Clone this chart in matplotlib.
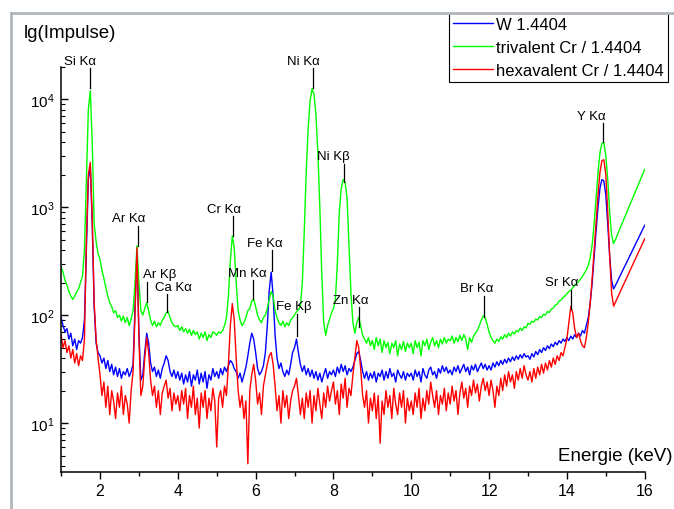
import numpy as np
import matplotlib
matplotlib.use("Agg")
import matplotlib.pyplot as plt
from matplotlib.lines import Line2D
from matplotlib.ticker import LogLocator, MultipleLocator

plt.rcParams['font.family'] = ['Liberation Sans', 'DejaVu Sans']
plt.rcParams['mathtext.fontset'] = 'custom'
plt.rcParams['mathtext.rm'] = 'Liberation Sans'

# Energie-Raster (keV), 0.05 keV Schritte von 1 bis 16
energy = np.round(np.arange(1.0, 16.0001, 0.05), 2)

# Impulse (je Zeile 1 keV: x.00 ... x.95)
w_14404 = [
    95, 80, 70, 75, 60, 68, 52, 60, 48, 58, 55, 62, 90, 400, 1800, 2400, 700, 120, 55, 45,
    42, 36, 40, 32, 38, 30, 35, 28, 33, 27, 32, 26, 30, 28, 32, 27, 30, 35, 120, 400,
    70, 25, 28, 45, 68, 55, 36, 30, 33, 27, 31, 26, 32, 36, 42, 38, 30, 27, 31, 26,
    30, 25, 29, 23, 28, 24, 30, 22, 28, 25, 31, 23, 29, 24, 30, 21, 28, 25, 32, 27,
    30, 26, 32, 28, 33, 30, 34, 38, 36, 32, 30, 26, 29, 24, 28, 33, 42, 55, 68, 60,
    45, 32, 28, 30, 34, 45, 80, 170, 250, 150, 65, 40, 32, 36, 30, 27, 31, 28, 35, 45,
    50, 60, 45, 35, 30, 34, 28, 32, 27, 31, 26, 30, 25, 29, 24, 28, 32, 26, 30, 28,
    31, 27, 33, 29, 35, 30, 34, 28, 32, 30, 33, 38, 44, 46, 38, 30, 26, 30, 25, 29,
    26, 30, 24, 29, 27, 31, 25, 30, 26, 32, 27, 29, 24, 31, 28, 26, 30, 25, 29, 27,
    29, 25, 31, 27, 30, 24, 32, 28, 26, 31, 33, 28, 30, 26, 32, 29, 34, 30, 33, 29,
    31, 28, 33, 30, 34, 29, 32, 35, 30, 33, 28, 34, 31, 35, 30, 33, 36, 32, 35, 31,
    34, 31, 36, 33, 37, 34, 38, 35, 39, 36, 40, 37, 41, 38, 42, 39, 43, 40, 44, 41,
    42, 39, 44, 41, 46, 43, 48, 45, 50, 47, 52, 49, 54, 51, 56, 53, 58, 55, 60, 57,
    62, 58, 64, 60, 66, 62, 68, 64, 72, 68, 80, 95, 130, 200, 350, 600, 1000, 1500, 1800, 1750,
    1300, 700, 350, 210, 175, 189, 206, 224, 244, 266, 290, 315, 344, 374, 407, 444, 483, 526, 573, 624,
    680]

cr3 = [
    280, 250, 210, 190, 165, 150, 140, 150, 165, 175, 200, 230, 400, 1800, 8000, 12000, 4000, 700, 480, 370,
    330, 260, 220, 180, 150, 130, 120, 105, 110, 95, 100, 88, 98, 85, 95, 80, 92, 110, 200, 440,
    200, 110, 100, 115, 130, 110, 90, 80, 88, 78, 85, 80, 90, 95, 105, 108, 95, 85, 80, 78,
    80, 72, 78, 70, 75, 68, 74, 65, 72, 66, 70, 60, 68, 62, 70, 58, 66, 62, 70, 68,
    65, 70, 68, 72, 80, 95, 150, 320, 540, 420, 200, 110, 90, 80, 85, 95, 110, 115, 135, 140,
    120, 100, 90, 85, 95, 100, 115, 140, 165, 150, 110, 95, 85, 80, 88, 78, 85, 80, 90, 95,
    100, 108, 112, 120, 200, 600, 2100, 5400, 9700, 12500, 11200, 7100, 3200, 1000, 240, 85, 65, 80, 92, 105,
    115, 140, 300, 900, 1500, 1800, 1700, 1200, 450, 160, 85, 68, 85, 95, 80, 65, 60, 55, 62, 52,
    58, 48, 62, 52, 60, 45, 58, 50, 56, 44, 55, 50, 58, 42, 54, 48, 57, 46, 55, 50,
    55, 44, 58, 50, 56, 42, 58, 52, 60, 48, 56, 62, 52, 58, 50, 60, 54, 62, 55, 60,
    58, 64, 55, 62, 57, 65, 58, 66, 60, 48, 62, 56, 64, 68, 72, 80, 90, 98, 95, 82,
    70, 62, 58, 55, 60, 57, 63, 60, 66, 62, 68, 64, 70, 67, 72, 70, 76, 72, 78, 76,
    84, 82, 88, 86, 92, 90, 97, 95, 102, 100, 108, 106, 114, 116, 124, 126, 135, 138, 146, 150,
    158, 165, 170, 180, 188, 196, 205, 215, 228, 245, 262, 290, 340, 450, 700, 1200, 2100, 3200, 3900, 4000,
    3000, 1800, 900, 550, 460, 500, 557, 615, 679, 750, 828, 914, 1009, 1114, 1230, 1358, 1500, 1660, 1830, 2020,
    2240]

cr6 = [
    65, 50, 58, 45, 52, 40, 48, 36, 44, 34, 42, 38, 60, 500, 2000, 2600, 800, 130, 60, 40,
    28, 18, 24, 14, 22, 12, 20, 16, 11, 19, 14, 22, 12, 18, 15, 10, 20, 30, 100, 420,
    60, 18, 22, 40, 62, 45, 25, 18, 22, 14, 20, 12, 19, 22, 25, 17, 21, 13, 19, 15,
    18, 13, 20, 15, 21, 11, 18, 14, 22, 12, 17, 9, 19, 14, 20, 11, 17, 13, 21, 16,
    6, 17, 20, 14, 22, 18, 35, 80, 128, 90, 40, 20, 14, 18, 11, 16, 4.2, 20, 28, 35,
    25, 15, 19, 12, 22, 28, 35, 42, 45, 35, 22, 13, 18, 10, 20, 14, 18, 11, 16, 20,
    22, 26, 18, 12, 17, 11, 19, 14, 20, 10, 18, 13, 21, 15, 11, 19, 14, 22, 16, 20,
    24, 15, 20, 12, 23, 17, 26, 14, 21, 18, 28, 40, 58, 50, 32, 18, 14, 20, 10, 17,
    13, 19, 11, 18, 6.5, 16, 12, 20, 14, 18, 11, 21, 15, 12, 19, 14, 20, 10, 17, 13,
    16, 12, 19, 14, 21, 11, 17, 13, 20, 15, 24, 18, 14, 20, 12, 18, 15, 21, 13, 19,
    15, 22, 16, 20, 12, 19, 24, 17, 21, 14, 22, 18, 25, 19, 23, 16, 22, 26, 20, 24,
    18, 25, 20, 14, 22, 18, 26, 20, 28, 22, 30, 24, 28, 21, 30, 25, 32, 26, 34, 28,
    25, 30, 24, 32, 26, 33, 28, 35, 29, 36, 31, 38, 33, 40, 35, 42, 38, 45, 42, 50,
    60, 85, 120, 105, 75, 62, 68, 58, 52, 50, 62, 85, 130, 220, 400, 750, 1300, 2100, 2700, 2750,
    2000, 900, 350, 160, 121, 132, 145, 158, 173, 190, 207, 227, 248, 272, 297, 325, 356, 389, 426, 466,
    509]

series_names = ['W 1.4404', 'trivalent Cr / 1.4404', 'hexavalent Cr / 1.4404']

# Linien-Beschriftung: Text, x Text, y Text, x Linie, y Linie oben, y Linie unten
peak_labels = [
    ('Si K\u03b1', 1.49, 22490, 1.74, 19370, 12640),
    ('Ni K\u03b1', 7.22, 22490, 7.48, 19370, 12640),
    ('Ar K\u03b1', 2.75, 791, 2.98, 667, 436),
    ('Cr K\u03b1', 5.19, 958, 5.42, 826, 538),
    ('Fe K\u03b1', 6.23, 464, 6.42, 400, 255),
    ('Ni K\u03b2', 8.00, 2970, 8.26, 2500, 1700),
    ('Y K\u03b1', 14.62, 6960, 14.93, 5990, 4000),
    ('Ar K\u03b2', 3.54, 240, 3.21, 202, 132),
    ('Ca K\u03b1', 3.90, 181, 3.72, 156, 107),
    ('Mn K\u03b1', 5.78, 245, 5.93, 211, 141),
    ('Fe K\u03b2', 6.99, 121, 7.06, 102, 64),
    ('Zn K\u03b1', 8.45, 138, 8.66, 119, 77),
    ('Br K\u03b1', 11.67, 178, 11.87, 150, 96),
    ('Sr K\u03b1', 13.87, 202, 14.11, 170, 114),
]

assert len(w_14404) == len(energy) == len(cr3) == len(cr6)

fig = plt.figure(figsize=(6.74, 5.10), dpi=100)
ax = fig.add_axes([61.1 / 674, 1 - 473.3 / 510, 583.6 / 674, 405.6 / 510])

ax.plot(energy, w_14404, color='#0000ff', lw=1.0, label=series_names[0])
ax.plot(energy, cr3, color='#00ff00', lw=1.0, label=series_names[1])
ax.plot(energy, cr6, color='#ff0000', lw=1.0, label=series_names[2])

ax.set_yscale('log')
ax.set_xlim(1, 16)
ax.set_ylim(3.5, 20000)

ax.xaxis.set_major_locator(MultipleLocator(2))
ax.xaxis.set_minor_locator(MultipleLocator(1))
ax.yaxis.set_major_locator(LogLocator(base=10, numticks=10))
ax.yaxis.set_minor_locator(LogLocator(base=10, subs=np.arange(2, 10), numticks=20))
ax.tick_params(axis='x', which='major', direction='out', length=5, width=1, labelsize=11.5, pad=3)
ax.tick_params(axis='x', which='minor', direction='out', length=3, width=1)
ax.tick_params(axis='y', which='major', direction='in', length=5, width=1, labelsize=11, pad=5)
ax.tick_params(axis='y', which='minor', direction='in', length=3, width=0.8)
ax.spines['top'].set_visible(False)
ax.spines['right'].set_visible(False)
for s in ['left', 'bottom']:
    ax.spines[s].set_linewidth(1.1)

for txt, tx, ty, lx, ly1, ly2 in peak_labels:
    ax.text(tx, ty, txt, ha='center', va='center', fontsize=9.5, clip_on=False)
    ax.plot([lx, lx], [ly1, ly2], color='black', lw=0.9, clip_on=False)

fig.text(24 / 674, 1 - 33 / 510, 'lg(Impulse)', ha='left', va='center', fontsize=13.5)
fig.text(672 / 674, 1 - 457 / 510, 'Energie (keV)', ha='right', va='center', fontsize=13.5)

# grauer Rahmen
frame_col = '#b0b5ba'
fig.add_artist(Line2D([10.5 / 674, 10.5 / 674], [0, 1 - 14 / 510], transform=fig.transFigure,
                      color=frame_col, lw=2))
fig.add_artist(Line2D([10.5 / 674, 1], [1 - 14 / 510, 1 - 14 / 510], transform=fig.transFigure,
                      color=frame_col, lw=2))

leg = ax.legend(loc='upper left', bbox_to_anchor=(449 / 674, 1 - 14 / 510),
                bbox_transform=fig.transFigure, fontsize=12, frameon=True, fancybox=False,
                framealpha=1, edgecolor='black', handlelength=2.4, handletextpad=0.2,
                labelspacing=0.48, borderpad=0.25, borderaxespad=0)
leg.get_frame().set_linewidth(0.8)
for line in leg.get_lines():
    line.set_linewidth(1.0)

fig.savefig('out.png', dpi=100)
